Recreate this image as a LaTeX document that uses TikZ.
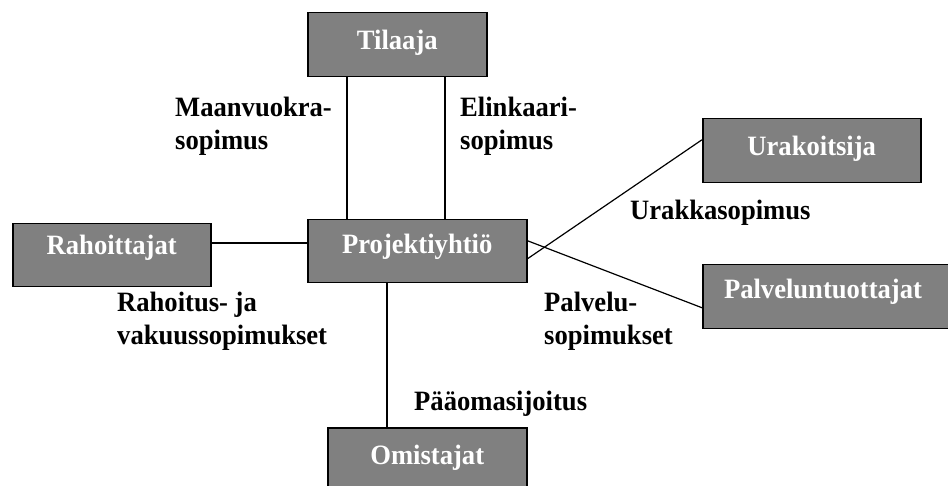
\documentclass[tikz,border=0pt]{standalone}
\usepackage{fontspec}
\setmainfont{Liberation Serif}
\newfontfamily\narrowserif[FakeStretch=0.95]{Liberation Serif}
\definecolor{boxgray}{HTML}{808080}
\begin{document}
\begin{tikzpicture}[x=1pt,y=-1pt,
  box/.style={draw=black,line width=1.5pt,fill=boxgray,anchor=north west,inner sep=0pt},
  boxtext/.style={anchor=base,text=white,font=\narrowserif\fontsize{28}{32}\selectfont\bfseries,inner sep=0pt},
  lab/.style={anchor=north west,align=left,inner sep=0pt,font=\narrowserif\fontsize{28}{33}\selectfont\bfseries},
  conn/.style={line width=1.2pt}]
\useasboundingbox (0,0) rectangle (948,486);
% boxes
\node[box,minimum width=179pt,minimum height=64pt] (til) at (307,12) {};
\node[box,minimum width=219pt,minimum height=63pt] (proj) at (307,219) {};
\node[box,minimum width=198pt,minimum height=63pt] (rah) at (12,223) {};
\node[box,minimum width=218pt,minimum height=64pt] (ura) at (702,118) {};
\node[box,minimum width=248pt,minimum height=64pt] (pal) at (702,264) {};
\node[box,minimum width=199pt,minimum height=60pt] (omi) at (327,427) {};
% box texts
\node[boxtext] (til-t) at ([yshift=-38pt]til.north) {Tilaaja};
\node[boxtext] (proj-t) at ([yshift=-35pt]proj.north) {Projektiyhtiö};
\node[boxtext] (rah-t) at ([yshift=-32pt]rah.north) {Rahoittajat};
\node[boxtext] (ura-t) at ([yshift=-38pt]ura.north) {Urakoitsija};
\node[boxtext] (pal-t) at ([yshift=-35pt]pal.north -| 823,0) {Palveluntuottajat};
\node[boxtext] (omi-t) at ([yshift=-37pt]omi.north) {Omistajat};
% connectors
\coordinate (c1) at (347,0);
\coordinate (c2) at (445,0);
\coordinate (c3) at (387,0);
\coordinate (r1) at (0,243);
\draw[conn] (til.south -| c1) -- (proj.north -| c1);
\draw[conn] (til.south -| c2) -- (proj.north -| c2);
\draw[conn] (rah.east |- r1) -- (proj.west |- r1);
\draw[conn] (proj.south -| c3) -- (omi.north -| c3);
\draw[conn] ([yshift=-7.5pt]proj.east) -- ([yshift=11pt]ura.west);
\draw[conn] ([yshift=10.5pt]proj.east) -- ([yshift=-11pt]pal.west);
% labels
\node[lab] (l1) at (175,97) {Maanvuokra-\\sopimus};
\node[lab] (l2) at (460,97) {Elinkaari-\\sopimus};
\node[lab] (l3) at (630,200) {Urakkasopimus};
\node[lab] (l4) at (117,292) {Rahoitus- ja\\vakuussopimukset};
\node[lab] (l5) at (544,292) {Palvelu-\\sopimukset};
\node[lab] (l6) at (414,391) {Pääomasijoitus};
\end{tikzpicture}
\end{document}
